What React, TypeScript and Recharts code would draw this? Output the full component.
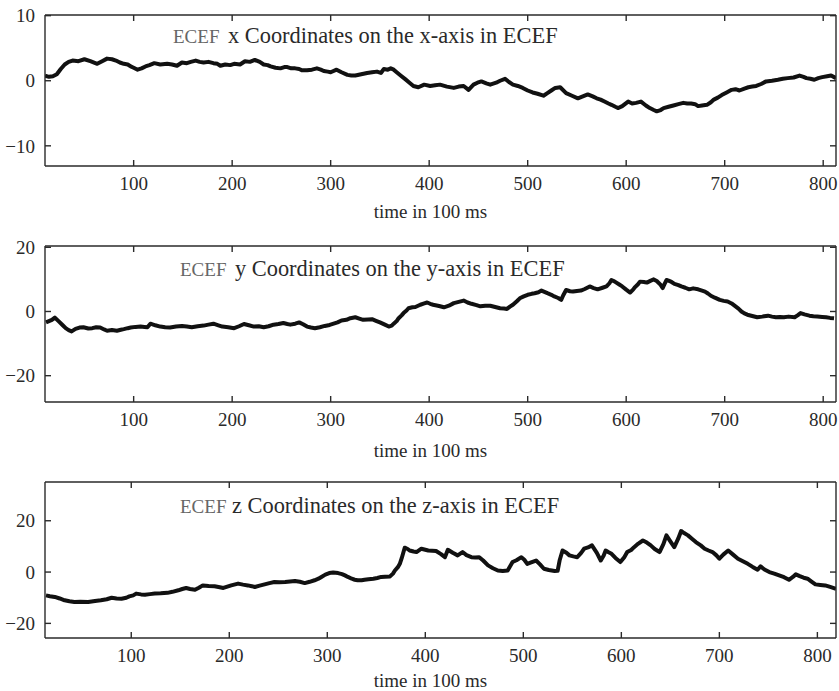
import React from 'react';
import { LineChart, Line, XAxis, YAxis } from 'recharts';

// ECEF x trace
const xTime = [
  10, 14, 18, 22, 26, 30, 34, 38, 44, 50,
  56, 63, 68, 73, 78, 82, 86, 90, 94, 97,
  100, 104, 108, 112, 116, 121, 127, 134, 139, 144,
  149, 154, 158, 163, 167, 171, 176, 181, 185, 188,
  193, 198, 202, 208, 213, 218, 223, 228, 232, 236,
  239, 244, 249, 253, 256, 260, 264, 268, 271, 276,
  281, 286, 290, 293, 297, 300, 306, 311, 317, 321,
  325, 331, 337, 342, 347, 351, 354, 358, 361, 364,
  367, 371, 376, 380, 384, 389, 395, 401, 406, 411,
  418, 425, 430, 435, 440, 445, 449, 453, 458, 462,
  468, 472, 477, 481, 485, 490, 495, 500, 505, 510,
  516, 520, 524, 528, 533, 539, 545, 551, 556, 561,
  566, 570, 574, 578, 582, 585, 589, 592, 596, 602,
  606, 610, 615, 620, 624, 628, 631, 635, 638, 643,
  648, 653, 658, 662, 666, 670, 673, 677, 682, 686,
  689, 693, 697, 702, 707, 711, 715, 720, 724, 728,
  732, 737, 742, 748, 754, 759, 764, 770, 776, 780,
  783, 787, 791, 795, 799, 804, 808, 813,
];
const xCoord = [
  0.8, 0.6, 0.7, 1.0, 1.8, 2.5, 2.9, 3.1, 3.0, 3.3,
  3.0, 2.6, 3.0, 3.4, 3.3, 3.1, 2.8, 2.6, 2.5, 2.2,
  2.0, 1.7, 1.9, 2.2, 2.4, 2.7, 2.5, 2.6, 2.5, 2.3,
  2.8, 2.7, 2.9, 3.1, 2.9, 2.8, 2.9, 2.7, 2.6, 2.3,
  2.5, 2.4, 2.6, 2.5, 3.0, 2.9, 3.2, 2.9, 2.5, 2.4,
  2.2, 2.0, 1.9, 2.1, 2.1, 1.9, 1.9, 1.8, 1.6, 1.6,
  1.7, 1.9, 1.7, 1.5, 1.4, 1.3, 1.7, 1.3, 0.9, 0.8,
  0.8, 1.0, 1.2, 1.3, 1.4, 1.2, 1.8, 1.7, 1.9, 1.7,
  1.3, 0.8, 0.2, -0.3, -0.8, -1.0, -0.6, -0.8, -0.7, -0.6,
  -0.9, -1.1, -0.9, -0.8, -1.4, -0.6, -0.3, -0.1, -0.4, -0.6,
  -0.3, 0.0, 0.3, -0.2, -0.6, -0.8, -1.1, -1.5, -1.8, -2.0,
  -2.3, -1.9, -1.5, -1.1, -1.0, -1.9, -2.3, -2.7, -2.4, -2.1,
  -2.4, -2.7, -2.9, -3.2, -3.5, -3.7, -4.0, -4.2, -3.9, -3.2,
  -3.5, -3.4, -3.2, -3.8, -4.2, -4.5, -4.7, -4.5, -4.2, -4.0,
  -3.8, -3.6, -3.4, -3.5, -3.5, -3.6, -3.9, -3.8, -3.7, -3.3,
  -2.9, -2.6, -2.2, -1.8, -1.4, -1.3, -1.5, -1.2, -1.0, -0.9,
  -0.8, -0.5, -0.1, 0.0, 0.15, 0.3, 0.4, 0.5, 0.8, 0.6,
  0.4, 0.3, 0.15, 0.4, 0.56, 0.7, 0.8, 0.4,
];

// ECEF y trace
const yTime = [
  11, 14, 17, 20, 24, 28, 31, 34, 37, 41,
  45, 49, 54, 58, 62, 66, 70, 73, 78, 83,
  87, 90, 94, 97, 102, 107, 111, 114, 117, 122,
  127, 132, 137, 143, 149, 154, 159, 165, 171, 176,
  181, 186, 190, 196, 202, 207, 212, 217, 222, 227,
  232, 237, 242, 247, 252, 256, 259, 264, 268, 272,
  276, 280, 284, 289, 294, 299, 303, 307, 311, 316,
  320, 325, 329, 333, 338, 342, 346, 350, 355, 359,
  362, 364, 367, 369, 372, 374, 377, 379, 383, 386,
  391, 395, 398, 401, 404, 410, 415, 420, 425, 430,
  435, 439, 443, 448, 452, 457, 462, 467, 472, 476,
  479, 482, 485, 489, 492, 496, 500, 504, 507, 511,
  514, 517, 520, 524, 527, 531, 534, 536, 539, 543,
  546, 550, 554, 558, 563, 567, 571, 576, 580, 583,
  585, 588, 590, 593, 596, 600, 604, 607, 609, 612,
  614, 618, 621, 625, 628, 631, 635, 637, 639, 641,
  643, 646, 649, 653, 656, 660, 664, 668, 673, 677,
  680, 683, 686, 690, 695, 699, 703, 707, 710, 714,
  717, 720, 723, 728, 733, 738, 744, 748, 752, 756,
  760, 765, 771, 774, 777, 781, 786, 790, 794, 799,
  803, 807, 811,
];
const yCoord = [
  -3.4, -3.0, -2.6, -1.9, -3.1, -4.3, -5.2, -5.8, -6.2, -5.4,
  -5.0, -4.9, -5.3, -5.2, -4.9, -5.0, -5.6, -6.0, -5.8, -6.0,
  -5.7, -5.5, -5.2, -5.0, -4.8, -4.7, -4.8, -4.9, -3.8, -4.3,
  -4.7, -4.9, -5.0, -4.7, -4.5, -4.7, -4.9, -4.6, -4.4, -4.1,
  -3.8, -4.3, -4.7, -4.9, -5.2, -4.6, -3.9, -4.3, -4.7, -4.6,
  -4.9, -4.6, -4.1, -3.9, -3.6, -3.9, -4.1, -3.8, -3.4, -4.0,
  -4.7, -5.0, -5.2, -4.9, -4.5, -4.2, -3.8, -3.4, -2.8, -2.6,
  -2.1, -1.8, -2.2, -2.6, -2.5, -2.4, -2.9, -3.4, -4.1, -4.7,
  -4.4, -3.8, -3.0, -2.1, -1.2, -0.5, 0.3, 1.0, 1.3, 1.4,
  2.1, 2.5, 2.8, 2.4, 2.1, 1.7, 1.3, 1.8, 2.6, 3.0,
  3.4, 2.8, 2.4, 2.0, 1.6, 1.8, 1.8, 1.4, 1.0, 0.9,
  0.8, 1.5, 2.1, 3.2, 4.1, 4.7, 5.2, 5.5, 5.7, 6.0,
  6.5, 6.1, 5.7, 5.2, 4.7, 4.2, 3.6, 5.0, 6.7, 6.3,
  6.2, 6.4, 6.5, 7.0, 7.8, 7.3, 6.9, 7.4, 7.8, 8.8,
  9.8, 9.4, 9.0, 8.4, 7.8, 6.8, 5.9, 6.8, 7.6, 8.5,
  9.3, 9.2, 9.0, 9.6, 10.0, 9.5, 8.3, 7.3, 8.6, 9.8,
  9.6, 9.2, 8.6, 8.2, 7.8, 7.4, 6.9, 7.2, 6.9, 6.5,
  6.2, 5.6, 4.9, 4.3, 3.6, 3.3, 3.1, 2.5, 1.8, 0.9,
  0.0, -0.6, -1.0, -1.4, -1.8, -1.6, -1.3, -1.6, -1.8, -1.7,
  -1.8, -1.6, -1.8, -1.2, -0.5, -0.9, -1.3, -1.5, -1.6, -1.7,
  -1.8, -2.0, -2.1,
];

// ECEF z trace
const zTime = [
  13, 17, 22, 27, 32, 37, 42, 48, 56, 63,
  69, 75, 80, 85, 90, 95, 98, 102, 105, 110,
  114, 119, 124, 130, 137, 142, 148, 152, 156, 160,
  165, 169, 173, 179, 185, 189, 194, 198, 202, 206,
  209, 214, 219, 223, 226, 231, 236, 241, 246, 251,
  257, 262, 267, 272, 277, 282, 287, 291, 294, 298,
  302, 306, 311, 315, 318, 321, 325, 328, 331, 335,
  338, 342, 347, 351, 355, 359, 364, 367, 369, 372,
  374, 376, 379, 382, 384, 388, 391, 396, 400, 403,
  407, 411, 416, 420, 423, 428, 433, 438, 442, 447,
  451, 455, 459, 464, 469, 474, 479, 484, 489, 493,
  498, 501, 504, 508, 513, 517, 521, 526, 532, 535,
  537, 540, 544, 547, 551, 555, 559, 562, 566, 570,
  575, 579, 582, 584, 587, 590, 594, 599, 603, 606,
  610, 613, 617, 622, 626, 630, 634, 639, 643, 646,
  650, 654, 658, 661, 664, 668, 672, 676, 681, 685,
  689, 693, 697, 700, 704, 709, 714, 719, 724, 729,
  734, 739, 742, 746, 751, 756, 761, 766, 771, 775,
  778, 782, 786, 790, 794, 798, 803, 808, 813, 819,
];
const zCoord = [
  -9.1, -9.4, -9.7, -10.3, -11.0, -11.4, -11.7, -11.6, -11.7, -11.3,
  -11.0, -10.6, -10.0, -10.3, -10.4, -10.0, -9.5, -9.1, -8.4, -8.7,
  -8.8, -8.6, -8.4, -8.3, -8.1, -7.7, -7.1, -6.6, -6.2, -6.6,
  -6.9, -6.1, -5.2, -5.4, -5.5, -5.8, -6.2, -5.7, -5.2, -4.8,
  -4.5, -4.9, -5.2, -5.5, -5.8, -5.3, -4.8, -4.3, -3.9, -4.0,
  -3.9, -3.7, -3.5, -3.8, -4.3, -3.8, -3.2, -2.6, -1.9, -1.0,
  -0.4, -0.2, -0.4, -0.8, -1.3, -1.9, -2.6, -3.0, -3.2, -3.2,
  -3.0, -2.8, -2.6, -2.3, -1.9, -1.8, -1.7, -0.6, 0.6, 1.9,
  3.2, 5.5, 9.5, 9.0, 8.4, 8.0, 7.8, 9.1, 8.7, 8.4,
  8.3, 8.2, 7.0, 5.8, 8.7, 7.5, 6.5, 7.8, 6.6, 5.8,
  5.7, 5.8, 4.5, 2.6, 1.5, 0.6, 0.4, 0.6, 3.9, 4.6,
  5.8, 4.8, 3.2, 3.8, 4.5, 3.0, 1.3, 0.8, 0.4, 0.5,
  4.5, 8.4, 7.5, 6.5, 6.1, 5.8, 7.5, 9.1, 9.6, 10.4,
  7.5, 4.5, 6.5, 8.4, 7.7, 7.1, 5.5, 3.9, 5.8, 7.8,
  8.6, 9.7, 11.0, 12.3, 11.5, 10.4, 9.0, 7.8, 11.0, 14.3,
  12.0, 9.7, 13.0, 16.0, 15.2, 14.3, 13.0, 11.7, 10.4, 9.1,
  8.4, 7.8, 6.5, 5.2, 6.8, 8.4, 6.8, 5.2, 4.2, 3.2,
  2.0, 0.9, 2.2, 1.0, 0.0, -0.6, -1.3, -2.0, -3.0, -1.9,
  -0.9, -1.6, -2.2, -2.6, -3.7, -4.8, -5.0, -5.2, -5.8, -6.5,
];

const timeTicks = [100, 200, 300, 400, 500, 600, 700, 800];
const xTicks = [-10, 0, 10];
const yTicks = [-20, 0, 20];
const zTicks = [-20, 0, 20];

const serif = '"Liberation Serif", "DejaVu Serif", serif';
const ink = '#2a2a2a';
const PLOT_LEFT = 45;
const PLOT_RIGHT = 836;
const TICK = 6;

const toRows = (time: number[], vals: number[]) =>
  time.slice(0, Math.min(time.length, vals.length)).map((t, i) => ({ t, v: vals[i] }));

const fmt = (v: number) => (v < 0 ? `\u2212${Math.abs(v)}` : String(v));

interface PanelProps {
  top: number;
  height: number;
  plotTop: number;
  plotBottom: number;
  labelOffset: number;
  xDomain: [number, number];
  yDomain: [number, number];
  yTicks: number[];
  time: number[];
  vals: number[];
}

function Panel({ top, height, plotTop, plotBottom, labelOffset, xDomain, yDomain, yTicks, time, vals }: PanelProps) {
  const rows = toRows(time, vals);
  const axisHeight = height - plotBottom;

  // ticks point inward on all four sides, as in the original figure
  const bottomTick = (p: any) => (
    <g>
      <line x1={p.x} x2={p.x} y1={plotBottom} y2={plotBottom - TICK} stroke={ink} strokeWidth={1.4} />
      <text x={p.x} y={p.y} dy="0.71em" textAnchor="middle" fill={ink} fontSize={19} fontFamily={serif}>
        {p.payload.value}
      </text>
    </g>
  );
  const topTick = (p: any) => (
    <line x1={p.x} x2={p.x} y1={plotTop} y2={plotTop + TICK} stroke={ink} strokeWidth={1.4} />
  );
  const leftTick = (p: any) => (
    <g>
      <line x1={PLOT_LEFT} x2={PLOT_LEFT + TICK} y1={p.y} y2={p.y} stroke={ink} strokeWidth={1.4} />
      <text x={p.x} y={p.y} dy="0.355em" textAnchor="end" fill={ink} fontSize={19} fontFamily={serif}>
        {fmt(p.payload.value)}
      </text>
    </g>
  );
  const rightTick = (p: any) => (
    <line x1={PLOT_RIGHT} x2={PLOT_RIGHT - TICK} y1={p.y} y2={p.y} stroke={ink} strokeWidth={1.4} />
  );

  return (
    <div style={{ position: 'absolute', left: 0, top, width: 839, height }}>
      <LineChart
        width={839}
        height={height}
        data={rows}
        margin={{ top: plotTop - 1, right: 839 - PLOT_RIGHT - 1, bottom: 0, left: 0 }}
      >
        <XAxis
          xAxisId="b"
          dataKey="t"
          type="number"
          domain={xDomain}
          ticks={timeTicks}
          allowDataOverflow
          height={axisHeight}
          tickSize={0}
          tickMargin={11}
          tickLine={false}
          stroke={ink}
          strokeWidth={1.4}
          tick={bottomTick}
          label={{ value: 'time in 100 ms', position: 'insideBottom', offset: labelOffset, dx: -10, fill: ink, fontSize: 19, fontFamily: serif }}
        />
        <XAxis
          xAxisId="t"
          dataKey="t"
          type="number"
          orientation="top"
          domain={xDomain}
          ticks={timeTicks}
          allowDataOverflow
          height={1}
          tickSize={0}
          tickLine={false}
          tick={topTick}
          stroke={ink}
          strokeWidth={1.4}
        />
        <YAxis
          yAxisId="l"
          type="number"
          domain={yDomain}
          ticks={yTicks}
          allowDataOverflow
          width={PLOT_LEFT}
          tickSize={0}
          tickMargin={10}
          tickLine={false}
          stroke={ink}
          strokeWidth={1.4}
          tick={leftTick}
        />
        <YAxis
          yAxisId="r"
          type="number"
          orientation="right"
          domain={yDomain}
          ticks={yTicks}
          allowDataOverflow
          width={1}
          tickSize={0}
          tickLine={false}
          tick={rightTick}
          stroke={ink}
          strokeWidth={1.4}
        />
        <Line
          xAxisId="b"
          yAxisId="l"
          type="linear"
          dataKey="v"
          stroke="#111"
          strokeWidth={4}
          strokeLinejoin="round"
          dot={false}
          isAnimationActive={false}
        />
      </LineChart>
    </div>
  );
}

const titles = [
  { x: 173, y: 43, x2: 228, axis: 'x' },
  { x: 180, y: 276, x2: 235, axis: 'y' },
  { x: 180, y: 513, x2: 232, axis: 'z' },
];

export default function App() {
  return (
    <div style={{ position: 'absolute', left: 0, top: 0, width: 839, height: 691, background: '#fff', fontFamily: serif }}>
      <Panel top={0} height={230} plotTop={15} plotBottom={166} labelOffset={12} xDomain={[10, 813]} yDomain={[-13.1, 10.1]} yTicks={xTicks} time={xTime} vals={xCoord} />
      <Panel top={230} height={230} plotTop={16} plotBottom={172} labelOffset={3} xDomain={[10, 813]} yDomain={[-28.2, 20.4]} yTicks={yTicks} time={yTime} vals={yCoord} />
      <Panel top={460} height={231} plotTop={22} plotBottom={178} labelOffset={4} xDomain={[12, 819]} yDomain={[-25.7, 35.1]} yTicks={zTicks} time={zTime} vals={zCoord} />
      <svg width={839} height={691} style={{ position: 'absolute', left: 0, top: 0, pointerEvents: 'none' }}>
        {titles.map((t) => (
          <text key={t.axis} y={t.y} fontFamily={serif}>
            <tspan x={t.x} fontSize={19} fill="#666">ECEF</tspan>
            <tspan x={t.x2} fontSize={22.4} fill={ink}>{`${t.axis} Coordinates on the ${t.axis}-axis in ECEF`}</tspan>
          </text>
        ))}
      </svg>
    </div>
  );
}
